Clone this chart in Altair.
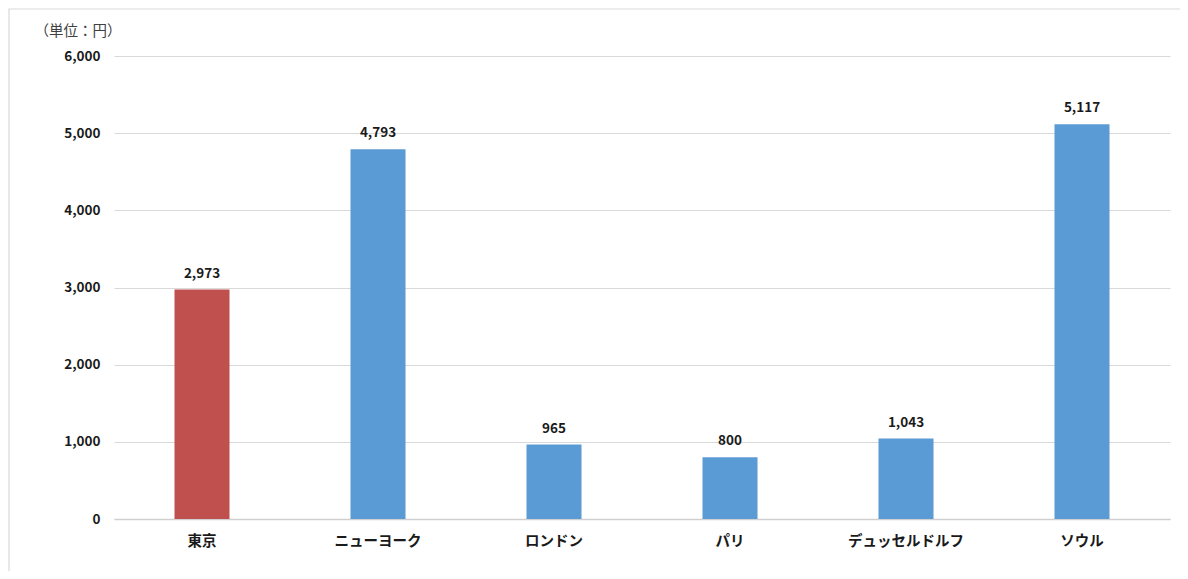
import altair as alt
import pandas as pd

cities = ["東京", "ニューヨーク", "ロンドン", "パリ", "デュッセルドルフ", "ソウル"]
values = [2973, 4793, 965, 800, 1043, 5117]
colors = ["#C0504D", "#5B9BD5", "#5B9BD5", "#5B9BD5", "#5B9BD5", "#5B9BD5"]

df = pd.DataFrame({"city": cities, "value": values, "color": colors})
FONT = "Noto Sans CJK JP"

x = alt.X("city:N", sort=cities, title=None,
          scale=alt.Scale(paddingInner=0.6875, paddingOuter=0.34375),
          axis=alt.Axis(labelAngle=0, labelFont=FONT, labelFontWeight="bold",
                        labelFontSize=14.5, labelColor="#1a1a1a", labelPadding=15,
                        ticks=False, domain=True, domainColor="#d0d0d0",
                        domainWidth=1.5, grid=False))
y = alt.Y("value:Q", title="（単位：円）",
          scale=alt.Scale(domain=[0, 6000]),
          axis=alt.Axis(values=[0, 1000, 2000, 3000, 4000, 5000, 6000],
                        format=",d", labelFont=FONT, labelFontWeight="bold",
                        labelFontSize=13.5, labelColor="#1a1a1a", labelPadding=14,
                        ticks=False, domain=False, gridColor="#d9d9d9",
                        gridWidth=1.2,
                        titleAngle=0, titleAlign="left", titleBaseline="middle",
                        titleX=-80, titleY=-25, titleFont=FONT,
                        titleFontWeight="normal", titleFontSize=14.5,
                        titleColor="#404040"))

bars = alt.Chart(df).mark_bar().encode(
    x=x, y=y, color=alt.Color("color:N", scale=None)
)

labels = alt.Chart(df).mark_text(
    dy=-9, baseline="bottom", font=FONT, fontWeight="bold", fontSize=13.5,
    color="#1a1a1a"
).encode(
    x=alt.X("city:N", sort=cities),
    y=alt.Y("value:Q"),
    text=alt.Text("value:Q", format=",d"),
)

frame = alt.Chart(pd.DataFrame({"f": [0]})).mark_rect(
    fill=None, stroke="#d9d9d9", strokeWidth=1.2, clip=False
).encode(
    x=alt.value(-105), x2=alt.value(1068),
    y=alt.value(-47), y2=alt.value(600),
)

chart = alt.layer(frame, bars, labels).properties(
    width=1056, height=463,
    padding={"left": 106, "top": 48, "right": 10, "bottom": 52},
    autosize=alt.AutoSizeParams(type="none"),
).configure(font=FONT, view=alt.ViewConfig(stroke=None))

chart.save("out.html", embed_options={"renderer": "svg", "actions": False})
